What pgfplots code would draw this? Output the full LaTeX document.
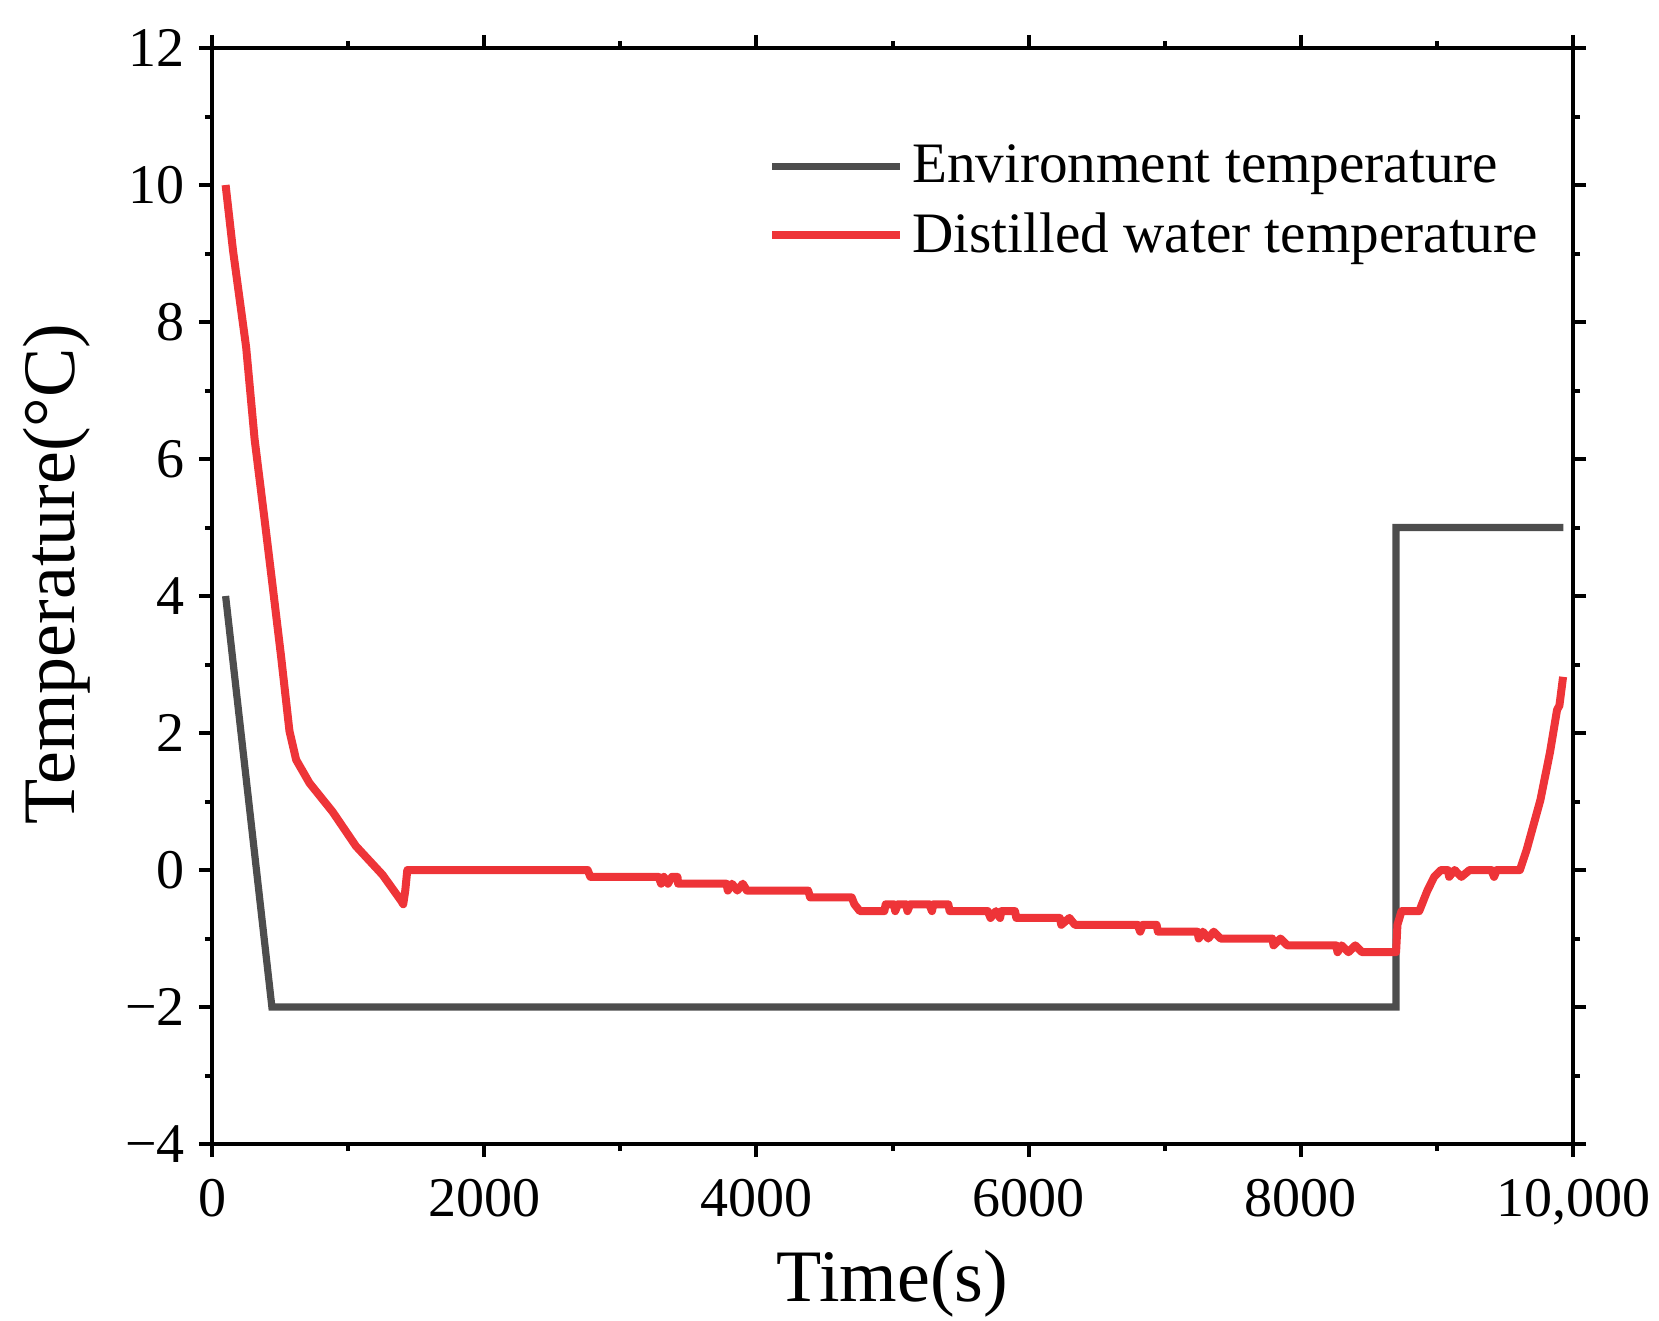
\documentclass[border=0pt]{standalone}
\usepackage{fontspec}
\setmainfont{Liberation Serif}
\usepackage{pgfplots}
\pgfplotsset{compat=1.18}
\definecolor{envgray}{RGB}{77,77,77}
\definecolor{wred}{RGB}{238,52,56}
\begin{document}
\begin{tikzpicture}
\useasboundingbox (0,0) rectangle (414.75pt,330pt);
\begin{axis}[
 at={(53pt,44pt)}, anchor=south west,
 scale only axis, width=340.25pt, height=274pt,
 xmin=0, xmax=10000, ymin=-4, ymax=12,
 xtick={0,2000,...,10000}, xticklabels={0,2000,4000,6000,8000,{10,000}},
 ytick={-4,-2,...,12}, yticklabels={−4,−2,0,2,4,6,8,10,12},
 minor x tick num=1, minor y tick num=1,
 tick align=outside, tick pos=both,
 major tick length=3.3pt, minor tick length=1.8pt,
 axis line style={line width=1pt},
 every tick/.style={black, line width=1pt},
 ticklabel style={font=\fontsize{14}{16}\selectfont},
 xticklabel style={yshift=-2pt},
 scaled x ticks=false,
 xlabel={Time(s)}, ylabel={Temperature(°C)},
 label style={font=\fontsize{18.5}{20}\selectfont},
 xlabel style={at={(axis description cs:0.5,-0.1277)}, anchor=center},
 ylabel style={at={(axis description cs:-0.114,0.52)}, anchor=center},
 legend style={at={(axis description cs:0.408,0.92)}, anchor=north west, draw=none, fill=none,
   font=\fontsize{14.3}{17}\selectfont, row sep=2pt, inner sep=0pt, nodes={inner sep=2pt}},
 legend cell align=left,
 legend image code/.code={\draw[#1] (0pt,0pt) -- (32pt,0pt);},
]
\addplot[envgray, line width=1.8pt] coordinates {
(100,4) (440,-2) (8700,-2) (8700,5) (9930,5)
};
\addlegendentry{Environment temperature}
\addplot[wred, line width=2pt, line join=round] coordinates {
(100,10) (154,9.05) (251,7.63) (313,6.29) (386,5.12) (447,4.12) (508,3.11) (569,2.03)
(618,1.61) (716,1.27) (886,0.85) (1057,0.35) (1253,-0.07) (1390,-0.45) (1405,-0.5)
(1420,-0.3) (1435,0)
(2760,0) (2780,-0.1) (3280,-0.1) (3300,-0.2) (3320,-0.1) (3350,-0.2) (3380,-0.1)
(3420,-0.1) (3425,-0.2) (3780,-0.2) (3790,-0.3) (3820,-0.2) (3860,-0.3) (3900,-0.2)
(3930,-0.3) (4380,-0.3) (4395,-0.4) (4700,-0.4) (4720,-0.5) (4760,-0.6) (4940,-0.6)
(4950,-0.5) (5010,-0.5) (5020,-0.6) (5040,-0.5) (5100,-0.5) (5110,-0.6) (5130,-0.5)
(5270,-0.5) (5290,-0.6) (5300,-0.5) (5410,-0.5) (5420,-0.6) (5700,-0.6) (5720,-0.7)
(5760,-0.6) (5790,-0.7) (5800,-0.6) (5900,-0.6) (5910,-0.7) (6230,-0.7) (6240,-0.8)
(6300,-0.7) (6340,-0.8) (6800,-0.8) (6820,-0.9) (6840,-0.8) (6940,-0.8) (6950,-0.9)
(7240,-0.9) (7250,-1.0) (7280,-0.9) (7320,-1.0) (7360,-0.9) (7410,-1.0) (7790,-1.0)
(7800,-1.1) (7850,-1.0) (7900,-1.1) (7950,-1.1) (8260,-1.1) (8270,-1.2) (8300,-1.1)
(8350,-1.2) (8400,-1.1) (8450,-1.2) (8700,-1.2)
(8710,-0.8) (8740,-0.6) (8870,-0.6) (8930,-0.3) (8980,-0.1) (9030,0) (9080,0)
(9090,-0.1) (9130,0) (9180,-0.1) (9240,0) (9400,0) (9420,-0.1) (9440,0) (9610,0)
(9660,0.3) (9760,1.02) (9830,1.71) (9883,2.34) (9900,2.4) (9927,2.82)
};
\addlegendentry{Distilled water temperature}
\end{axis}
\end{tikzpicture}
\end{document}
